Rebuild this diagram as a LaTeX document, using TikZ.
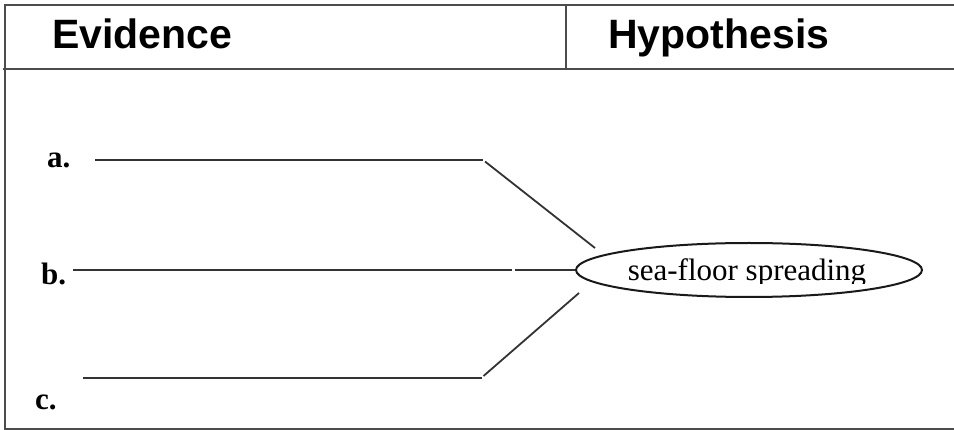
\documentclass[tikz,border=0pt]{standalone}
\usepackage{fontspec}
\setmainfont{Liberation Serif}
\newfontfamily\headfont{Liberation Sans}
\usetikzlibrary{shapes.geometric}
\begin{document}
\begin{tikzpicture}[x=1pt,y=-1pt,
  frameline/.style={draw=black!70,line width=2pt},
  evline/.style={draw=black!80,line width=1.8pt},
  headtext/.style={anchor=base west,inner sep=0pt,font=\headfont\bfseries\fontsize{41}{44}\selectfont},
  itemlabel/.style={anchor=base west,inner sep=0pt,font=\bfseries\fontsize{31}{33}\selectfont},
  hypo/.style={ellipse,draw=black!90,line width=2pt,minimum width=346pt,minimum height=54pt,inner sep=0pt}]
\useasboundingbox (0,0) rectangle (954,430);
% table frame
\draw[frameline] (954,5) -- (5,5) -- (5,429) -- (954,429);
\draw[frameline] (3,69) -- (954,69);
\draw[frameline] (566,5) -- (566,69);
% headings
\node[headtext] (evh) at (52,49) {Evidence};
\node[headtext] (hyh) at (608,49) {Hypothesis};
% hypothesis ellipse
\node[hypo] (hyp) at (749,270) {};
\begin{scope}
  \clip (600,240) rectangle (900,283.5);
  \node[anchor=base,inner sep=0pt,font=\fontsize{31}{33}\selectfont] (hyt) at (747,281) {sea-floor spreading};
\end{scope}
% item labels
\node[itemlabel] (la) at (47,168) {a.};
\node[itemlabel] (lb) at (41,285) {b.};
\node[itemlabel] (lc) at (35,410) {c.};
% evidence lines
\coordinate (a0) at (95,160);
\coordinate (a1) at (483,160);
\coordinate (a2) at (595,248);
\coordinate (b0) at (73,270);
\coordinate (b1) at (512,270);
\coordinate (b2) at (515,270);
\coordinate (c0) at (83,378);
\coordinate (c1) at (482,378);
\coordinate (c2) at (579,293);
\draw[evline] (a0) -- (a1);
\draw[evline] (a1) ++(2,1.5) -- (a2);
\draw[evline] (b0) -- (b1);
\draw[evline] (b2) -- (hyp.west);
\draw[evline] (c0) -- (c1);
\draw[evline] (c1) ++(1.5,-2) -- (c2);
\end{tikzpicture}
\end{document}
